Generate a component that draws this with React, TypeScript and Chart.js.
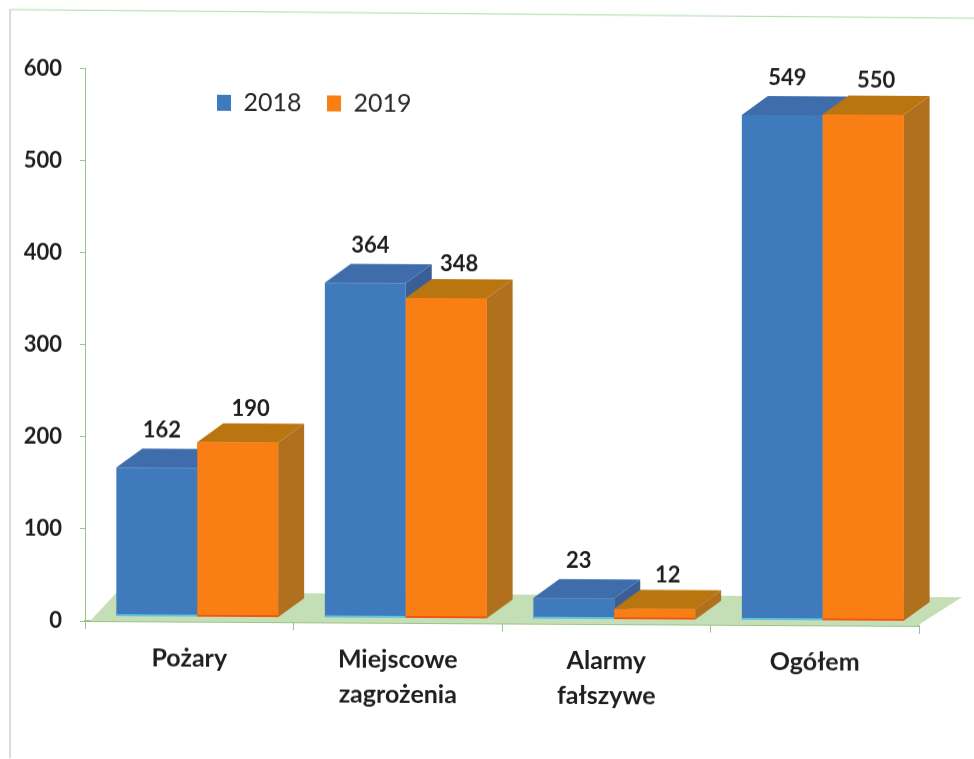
import React, { useEffect, useRef } from "react";
import { Chart, registerables } from "chart.js";

Chart.register(...registerables);

const categories = ["Pożary", ["Miejscowe", "zagrożenia"], ["Alarmy", "fałszywe"], "Ogółem"];
const series2018 = [162, 364, 23, 549];
const series2019 = [190, 348, 12, 550];
const seriesNames = ["2018", "2019"];
const yTicks = [0, 100, 200, 300, 400, 500, 600];

const FONT = "Lato, 'Open Sans', sans-serif";
const INK = "#1f1f1f";
const GREEN = "#9cc488";
const DEPTH_X = 26;
const DEPTH_Y = -19;
const SHIFT_X = 8;
const SHIFT_Y = -4.5;

const faces = [
  { top: "#3f6cab", side: "#3a5f96", base: "#62c3df", labelDx: 5, labelDy: -18 },
  { top: "#b9750f", side: "#b0701e", base: "#f2560f", labelDx: 13, labelDy: -15 },
];

const bars3d = {
  id: "bars3d",
  afterLayout(chart: any) {
    const l = chart.legend;
    if (l) {
      const h = l.height;
      const w = l.width;
      l.left = 191.5;
      l.right = l.left + w;
      l.top = 64;
      l.bottom = l.top + h;
    }
  },
  beforeDraw(chart: any) {
    const { ctx } = chart;
    ctx.save();
    ctx.lineWidth = 1;
    ctx.strokeStyle = "#a8dca6";
    ctx.beginPath();
    ctx.moveTo(10, 10);
    ctx.lineTo(974, 13);
    ctx.stroke();
    ctx.strokeStyle = "#b4b8b0";
    ctx.beginPath();
    ctx.moveTo(10, 10);
    ctx.lineTo(10, 759);
    ctx.stroke();
    ctx.restore();
  },
  beforeDatasetsDraw(chart: any) {
    const { ctx, chartArea: a } = chart;
    ctx.save();
    ctx.fillStyle = "#c4dfb6";
    ctx.beginPath();
    ctx.moveTo(a.left + 5, a.bottom);
    ctx.lineTo(a.left + 5 + 27, a.bottom - 29);
    ctx.lineTo(a.right + 43, a.bottom - 29);
    ctx.lineTo(a.right - 2, a.bottom);
    ctx.closePath();
    ctx.fill();
    ctx.restore();
    ctx.save();
    ctx.translate(SHIFT_X, SHIFT_Y);
  },
  afterDatasetsDraw(chart: any) {
    const { ctx } = chart;
    [0, 1].forEach((d) => {
      const meta = chart.getDatasetMeta(d);
      meta.data.forEach((el: any) => {
        const { x, y, base, width } = el.getProps(["x", "y", "base", "width"], true);
        const l = x - width / 2;
        const r = x + width / 2;
        ctx.fillStyle = faces[d].side;
        ctx.beginPath();
        ctx.moveTo(r, y);
        ctx.lineTo(r + DEPTH_X, y + DEPTH_Y);
        ctx.lineTo(r + DEPTH_X, base + DEPTH_Y);
        ctx.lineTo(r, base);
        ctx.closePath();
        ctx.fill();
        ctx.fillStyle = faces[d].top;
        ctx.beginPath();
        ctx.moveTo(l, y);
        ctx.lineTo(l + DEPTH_X, y + DEPTH_Y);
        ctx.lineTo(r + DEPTH_X, y + DEPTH_Y);
        ctx.lineTo(r, y);
        ctx.closePath();
        ctx.fill();
      });
      if (d === 1) meta.data.forEach((el: any) => el.draw(ctx));
      meta.data.forEach((el: any) => {
        const { x, base, width } = el.getProps(["x", "base", "width"], true);
        ctx.fillStyle = faces[d].base;
        ctx.fillRect(x - width / 2, base - 2, width, 2);
      });
    });
    ctx.restore();

    ctx.save();
    ctx.font = `bold 22px ${FONT}`;
    ctx.fillStyle = INK;
    ctx.textAlign = "center";
    ctx.textBaseline = "middle";
    [0, 1].forEach((d) => {
      const meta = chart.getDatasetMeta(d);
      const values = chart.data.datasets[d].data;
      meta.data.forEach((el: any, i: number) => {
        const { x, y } = el.getProps(["x", "y"], true);
        ctx.fillText(
          String(values[i]),
          x + SHIFT_X + faces[d].labelDx,
          y + SHIFT_Y + DEPTH_Y + faces[d].labelDy
        );
      });
    });
    ctx.restore();
  },
};

export default function App() {
  const ref = useRef<HTMLCanvasElement>(null);
  useEffect(() => {
    const chart = new Chart(ref.current as HTMLCanvasElement, {
      type: "bar",
      data: {
        labels: categories as any,
        datasets: [
          { label: seriesNames[0], data: series2018, backgroundColor: "#3f7abd", borderWidth: 0 },
          { label: seriesNames[1], data: series2019, backgroundColor: "#f97f14", borderWidth: 0 },
        ],
      },
      options: {
        responsive: false,
        animation: false,
        layout: { padding: { left: 0, right: 55, top: 8, bottom: 0 } },
        datasets: { bar: { categoryPercentage: 0.776, barPercentage: 1 } },
        plugins: {
          tooltip: { enabled: false },
          legend: {
            position: "top",
            align: "start",
            labels: {
              boxWidth: 14,
              boxHeight: 16,
              padding: 25.5,
              color: "#2a2a2a",
              font: { family: FONT, size: 25 },
            },
          },
        },
        scales: {
          x: {
            afterFit(scale: any) {
              scale.height = 138;
            },
            border: { color: GREEN, width: 2 },
            grid: { drawOnChartArea: false, color: GREEN, tickLength: 8, offset: true },
            ticks: {
              color: INK,
              maxRotation: 0,
              autoSkip: false,
              padding: 11,
              font: { family: FONT, size: 25, weight: "bold", lineHeight: 1.4 },
            },
          },
          y: {
            min: 0,
            max: 600,
            afterFit(scale: any) {
              scale.width = 85;
            },
            afterBuildTicks(scale: any) {
              scale.ticks = yTicks.map((value) => ({ value }));
            },
            border: { color: GREEN, width: 1 },
            grid: { drawOnChartArea: false, color: GREEN, tickLength: 5 },
            ticks: {
              color: INK,
              padding: 18,
              font: { family: FONT, size: 22, weight: "bold" },
            },
          },
        },
      },
      plugins: [bars3d as any],
    } as any);
    return () => chart.destroy();
  }, []);
  return (
    <div style={{ position: "absolute", left: 0, top: 0, width: 974, height: 759, overflow: "hidden", background: "#fff" }}>
      <canvas
        ref={ref}
        width={974}
        height={759}
        style={{ display: "block", transform: "skewY(0.34deg)", transformOrigin: "85px 621px" }}
      />
    </div>
  );
}
